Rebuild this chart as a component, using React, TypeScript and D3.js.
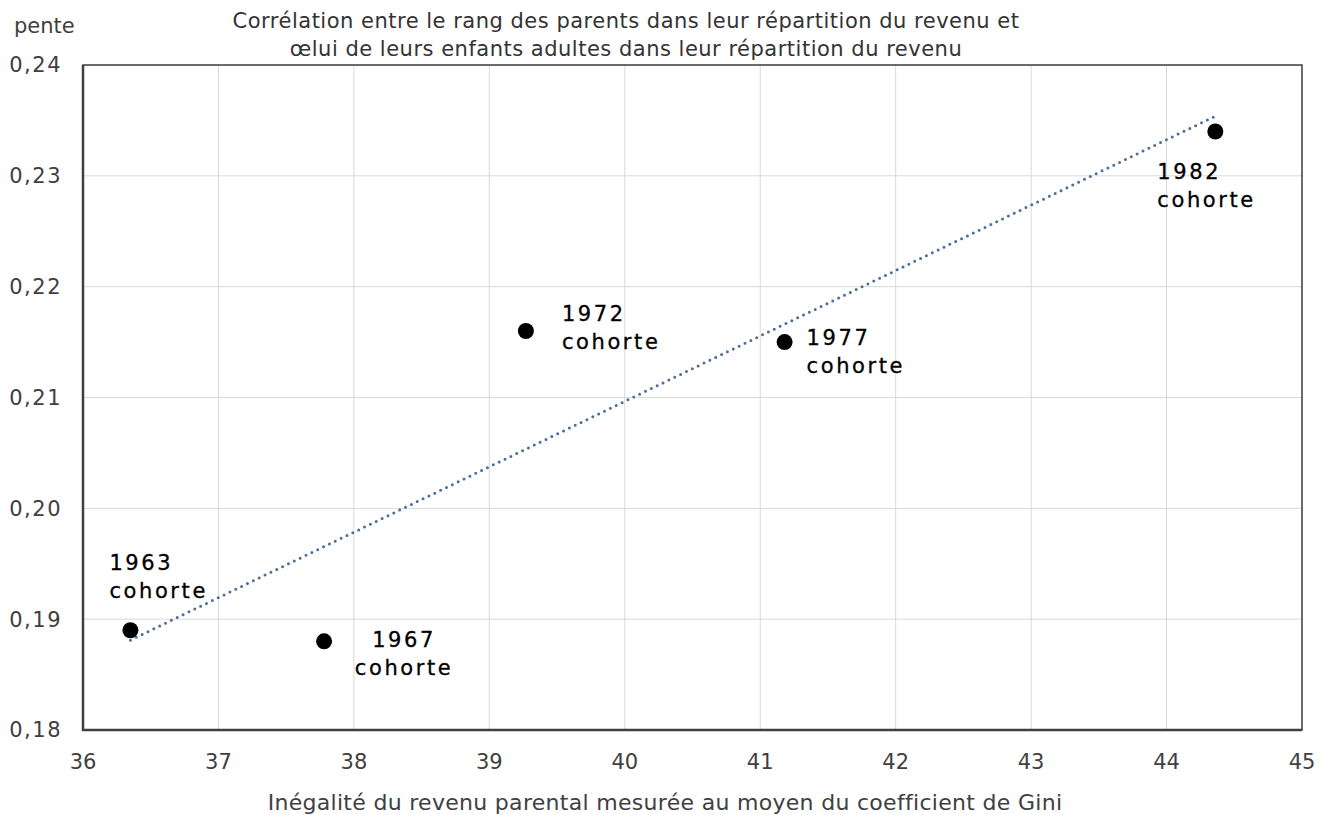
import { useEffect, useRef } from "react";
import * as d3 from "d3";

const cohorts = ["1963", "1967", "1972", "1977", "1982"];
const gini = [36.35, 37.78, 39.27, 41.18, 44.36];
const slope = [0.189, 0.188, 0.216, 0.215, 0.234];

const xTicks = [36, 37, 38, 39, 40, 41, 42, 43, 44, 45];
const yTicks = [0.18, 0.19, 0.2, 0.21, 0.22, 0.23, 0.24];

const titleLines = [
  "Corrélation entre le rang des parents dans leur répartition du revenu et",
  "œlui de leurs enfants adultes dans leur répartition du revenu",
];
const xTitle = "Inégalité du revenu parental mesurée au moyen du coefficient de Gini";
const yTitle = "pente";

// label placement per cohort: dx, dy of first line (centre), anchor
const labelPos = [
  { dx: -21, dy: -68, anchor: "start" },
  { dx: 80, dy: -2, anchor: "middle" },
  { dx: 36, dy: -17, anchor: "start" },
  { dx: 22, dy: -4, anchor: "start" },
  { dx: -58, dy: 40, anchor: "start" },
];

export default function App() {
  const svgRef = useRef<SVGSVGElement>(null);

  useEffect(() => {
    if (!svgRef.current) return;
    const svg = d3.select(svgRef.current);
    svg.selectAll("*").remove();

    const margin = { top: 65, right: 25, bottom: 85, left: 83 };
    const width = 1327 - margin.left - margin.right;
    const height = 815 - margin.top - margin.bottom;
    const font = "'DejaVu Sans', Verdana, sans-serif";

    const g = svg.append("g").attr("transform", `translate(${margin.left},${margin.top})`);

    const x = d3.scaleLinear().domain([36, 45]).range([0, width]);
    const y = d3.scaleLinear().domain([0.18, 0.24]).range([height, 0]);

    // grid
    g.selectAll(".vgrid")
      .data(xTicks)
      .enter()
      .append("line")
      .attr("x1", d => x(d)).attr("x2", d => x(d))
      .attr("y1", 0).attr("y2", height)
      .attr("stroke", "#d9d9d9").attr("stroke-width", 1);
    g.selectAll(".hgrid")
      .data(yTicks)
      .enter()
      .append("line")
      .attr("x1", 0).attr("x2", width)
      .attr("y1", d => y(d)).attr("y2", d => y(d))
      .attr("stroke", "#d9d9d9").attr("stroke-width", 1);

    // frame
    g.append("rect")
      .attr("x", 0).attr("y", 0)
      .attr("width", width).attr("height", height)
      .attr("fill", "none")
      .attr("stroke", "#404040")
      .attr("stroke-width", 1.5);
    g.append("path")
      .attr("d", `M0,0V${height}H${width}`)
      .attr("fill", "none")
      .attr("stroke", "#404040")
      .attr("stroke-width", 2.5);

    // tick labels
    const fmt = (v: number) => d3.format(".2f")(v).replace(".", ",");
    g.selectAll(".ylab")
      .data(yTicks)
      .enter()
      .append("text")
      .attr("x", -21)
      .attr("y", d => y(d))
      .attr("dy", "0.35em")
      .attr("text-anchor", "end")
      .attr("font-family", font)
      .attr("font-size", 21)
      .attr("letter-spacing", 1.5)
      .attr("fill", "#404040")
      .text(d => fmt(d));
    g.selectAll(".xlab")
      .data(xTicks)
      .enter()
      .append("text")
      .attr("x", d => x(d))
      .attr("y", height + 39)
      .attr("text-anchor", "middle")
      .attr("font-family", font)
      .attr("font-size", 21)
      .attr("fill", "#404040")
      .text(d => String(d));

    // trend line (least squares)
    const mx = d3.mean(gini)!;
    const my = d3.mean(slope)!;
    const sxy = d3.sum(gini, (v, i) => (v - mx) * (slope[i] - my));
    const sxx = d3.sum(gini, v => (v - mx) ** 2);
    const b = sxy / sxx;
    const a = my - b * mx;
    const ext = d3.extent(gini) as [number, number];
    const trend = d3.line<number>().x(d => x(d)).y(d => y(a + b * d));
    g.append("path")
      .datum(ext)
      .attr("fill", "none")
      .attr("stroke", "#4a6e9e")
      .attr("stroke-width", 3)
      .attr("stroke-linecap", "round")
      .attr("stroke-dasharray", "0,6.5")
      .attr("d", trend);

    // points
    g.selectAll(".pt")
      .data(gini)
      .enter()
      .append("circle")
      .attr("cx", d => x(d))
      .attr("cy", (_, i) => y(slope[i]))
      .attr("r", 8)
      .attr("fill", "#000");

    // labels
    cohorts.forEach((c, i) => {
      const p = labelPos[i];
      const t = g.append("text")
        .attr("font-family", font)
        .attr("font-size", 21)
        .attr("letter-spacing", 2.6)
        .attr("fill", "#000")
        .attr("stroke", "#000")
        .attr("stroke-width", 0.3)
        .attr("text-anchor", p.anchor)
        .attr("x", x(gini[i]) + p.dx)
        .attr("y", y(slope[i]) + p.dy);
      t.append("tspan").attr("dy", "0.35em").text(c);
      t.append("tspan")
        .attr("x", x(gini[i]) + p.dx)
        .attr("dy", 28)
        .text("cohorte");
    });

    // titles
    titleLines.forEach((line, i) => {
      svg.append("text")
        .attr("x", 626)
        .attr("y", 28 + i * 28)
        .attr("text-anchor", "middle")
        .attr("font-family", font)
        .attr("font-size", 21)
        .attr("letter-spacing", 0.5)
        .attr("fill", "#333")
        .text(line);
    });
    svg.append("text")
      .attr("x", 14)
      .attr("y", 33)
      .attr("font-family", font)
      .attr("font-size", 21)
      .attr("fill", "#404040")
      .text(yTitle);
    svg.append("text")
      .attr("x", 665)
      .attr("y", 810)
      .attr("text-anchor", "middle")
      .attr("font-family", font)
      .attr("font-size", 22)
      .attr("letter-spacing", 0.3)
      .attr("fill", "#404040")
      .text(xTitle);
  }, []);

  return (
    <svg
      ref={svgRef}
      width={1327}
      height={815}
      style={{ position: "absolute", left: 0, top: 0, background: "#fff" }}
    />
  );
}
